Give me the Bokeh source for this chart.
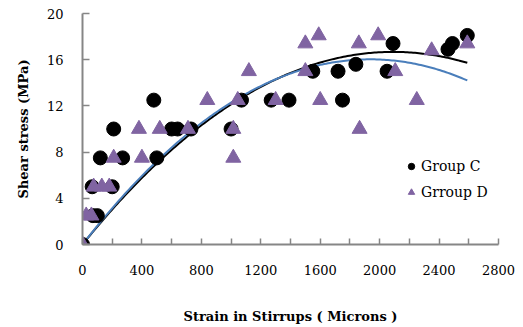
import numpy as np
from bokeh.plotting import figure
from bokeh.models import Range1d, FixedTicker, Legend, LegendItem
from bokeh.embed import file_html
from bokeh.resources import INLINE

# ---- data ----
c_strain = [0, 70, 100, 65, 200, 120, 270, 500, 210, 600, 640, 730, 1000,
            480, 1070, 1270, 1390, 1750, 1550, 1720, 2050, 1840, 2090,
            2460, 2490, 2590]
c_stress = [0, 2.5, 2.5, 5, 5, 7.5, 7.5, 7.5, 10, 10, 10, 10, 10,
            12.5, 12.5, 12.5, 12.5, 12.5, 15, 15, 15, 15.6, 17.4,
            16.9, 17.4, 18.1]

d_strain = [0, 25, 60, 75, 130, 180, 210, 400, 1015, 380, 520, 710, 1015,
            840, 1045, 1300, 1600, 2250, 1120, 1500, 2105, 1500, 1590,
            1860, 1990, 1865, 2350, 2590]
d_stress = [0, 2.5, 2.5, 5, 5, 5, 7.5, 7.5, 7.5, 10, 10, 10, 10,
            12.5, 12.5, 12.5, 12.5, 12.5, 15, 15, 15, 17.4, 18.1,
            17.4, 18.1, 10, 16.8, 17.4]

x_ticks = [0, 400, 800, 1200, 1600, 2000, 2400, 2800]
x_minor = [200, 600, 1000, 1400, 1800, 2200, 2600]
y_ticks = [0, 4, 8, 12, 16, 20]

series_names = ["Group C", "Grroup D"]


def trend(x, y):
    # 2nd-order polynomial trend line through the origin
    x = np.asarray(x, float)
    y = np.asarray(y, float)
    A = np.column_stack([x, x ** 2])
    coef, *_ = np.linalg.lstsq(A, y, rcond=None)
    xs = np.linspace(0, x.max(), 200)
    return xs, coef[0] * xs + coef[1] * xs ** 2


FONT = "DejaVu Serif"
AXIS_GREY = "#868686"
PURPLE = "#8064A2"
BLUE = "#4A7EBB"

p = figure(width=523, height=327, output_backend="svg", toolbar_location=None,
           x_range=Range1d(0, 2800), y_range=Range1d(0, 20),
           min_border_left=82, min_border_right=25, min_border_top=13,
           min_border_bottom=83)
p.outline_line_color = None
p.grid.visible = False
p.background_fill_color = "white"

xc, yc = trend(c_strain, c_stress)
xd, yd = trend(d_strain, d_stress)
p.line(xc, yc, line_color="black", line_width=2)
p.line(xd, yd, line_color=BLUE, line_width=2)

rc = p.scatter(c_strain, c_stress, marker="circle", size=14,
               fill_color="black", line_color="black")
rd = p.scatter(d_strain, d_stress, marker="triangle", size=15,
               fill_color=PURPLE, line_color=PURPLE)

# axes
xa = p.xaxis[0]
ya = p.yaxis[0]
xa.ticker = FixedTicker(ticks=x_ticks, minor_ticks=x_minor)
ya.ticker = FixedTicker(ticks=y_ticks)
for ax in (xa, ya):
    ax.axis_line_color = AXIS_GREY
    ax.axis_line_width = 2
    ax.major_tick_line_color = AXIS_GREY
    ax.major_tick_line_width = 1.5
    ax.minor_tick_line_color = AXIS_GREY
    ax.minor_tick_line_width = 1.5
    ax.major_tick_out = 0
    ax.minor_tick_out = 0
    ax.major_label_text_font = FONT
    ax.major_label_text_font_size = "13px"
    ax.major_label_text_color = "black"
    ax.axis_label_text_font = FONT
    ax.axis_label_text_font_size = "13px"
    ax.axis_label_text_font_style = "bold"
    ax.axis_label_text_color = "black"
xa.major_tick_in = 6
xa.minor_tick_in = 6
ya.major_tick_in = 7
ya.minor_tick_in = 0
xa.major_label_standoff = 20
ya.major_label_standoff = 19
xa.axis_label = "Strain in Stirrups ( Microns )"
ya.axis_label = "Shear stress (MPa)"
xa.axis_label_standoff = 31
ya.axis_label_standoff = 13

# legend position is relative to the frame's bottom-left corner
legend = Legend(items=[LegendItem(label=series_names[0], renderers=[rc]),
                       LegendItem(label=series_names[1], renderers=[rd])],
                location=(321, 44), orientation="vertical",
                background_fill_alpha=0, border_line_alpha=0,
                padding=0, margin=0, spacing=10, label_standoff=2,
                glyph_width=16, glyph_height=16, label_height=16,
                label_text_font=FONT, label_text_font_size="14px",
                label_text_color="black")
p.add_layout(legend)

open("out.html", "w").write(file_html(p, INLINE))
